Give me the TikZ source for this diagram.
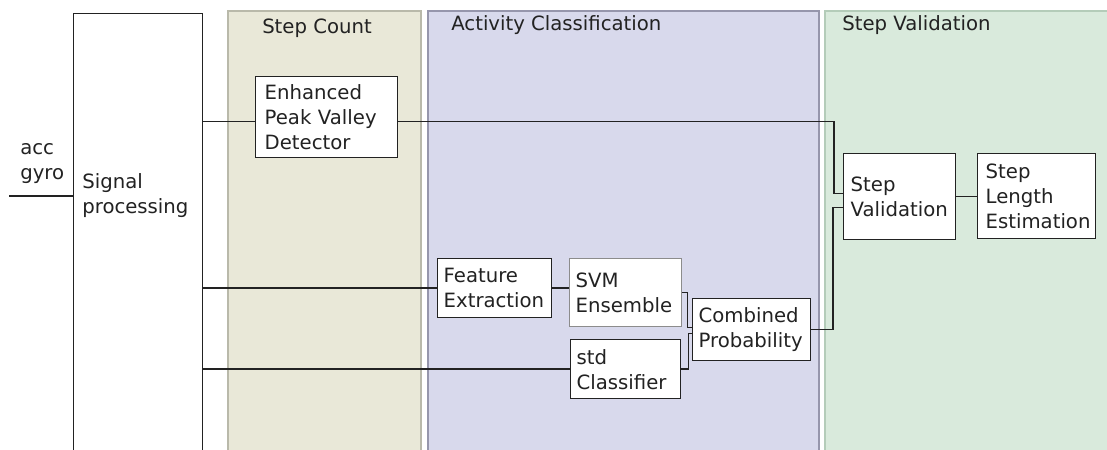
\documentclass[tikz,border=0pt]{standalone}
\usepackage{fontspec}
\setmainfont{DejaVu Sans}
\usetikzlibrary{positioning}
\definecolor{scbg}{RGB}{233,232,216}
\definecolor{scbd}{RGB}{185,185,170}
\definecolor{acbg}{RGB}{216,217,236}
\definecolor{acbd}{RGB}{150,150,172}
\definecolor{svbg}{RGB}{217,234,220}
\definecolor{svbd}{RGB}{180,204,185}
\definecolor{ink}{RGB}{34,34,34}

\begin{document}
\begin{tikzpicture}[x=0.02cm,y=-0.02cm,
  font=\fontsize{11.2}{14.2}\selectfont,
  txt/.style={inner sep=0pt,align=left,text=ink},
  blk/.style={draw=ink,line width=0.8pt,fill=white,anchor=north west,
    align=left,inner xsep=0.12cm,inner ysep=0pt,text=ink},
  wire/.style={draw=ink,line width=0.8pt}]
  \useasboundingbox (0,0) rectangle (1107,450);
  % panels
  \draw[line width=0.6pt,draw=scbd,fill=scbg] (228,11) rectangle (421,470);
  \draw[line width=0.8pt,draw=acbd,fill=acbg] (428,11) rectangle (819,470);
  \draw[line width=0.6pt,draw=svbd,fill=svbg] (825,11) rectangle (1120,470);
  \node[txt] (sctitle) at (317,28) {Step Count};
  \node[txt,anchor=west] (actitle) at (451,25) {Activity Classification};
  \node[txt,anchor=west] (svtitle) at (842,25) {Step Validation};

  % input and signal processing
  \node[blk,minimum width=2.58cm,minimum height=9.6cm] (sig) at (73,13) {};
  \node[txt,anchor=west] (siglbl) at (82,196) {Signal\\processing};
  \node[txt,anchor=west] (inlbl) at (20,164) {acc\\gyro};
  \coordinate (in) at (9,196);
  \draw[wire] (in) -- (sig.west |- in);

  % blocks
  \node[blk,inner xsep=0.18cm,minimum width=2.84cm,minimum height=1.62cm,text width=2.48cm] (epvd) at (255,76) {Enhanced\\Peak Valley\\Detector};
  \node[blk,inner xsep=0.14cm,minimum width=2.24cm,minimum height=1.72cm,text width=1.96cm] (sv) at (843,153) {Step\\Validation};
  \node[blk,inner xsep=0.16cm,minimum width=2.36cm,minimum height=1.70cm,text width=2.04cm] (sle) at (977,153) {Step\\Length\\Estimation};
  \node[blk,minimum width=2.28cm,minimum height=1.18cm,text width=2.04cm] (fe) at (437,258) {Feature\\Extraction};
  \node[blk,draw=black!45,minimum width=2.24cm,minimum height=1.36cm,text width=2.0cm] (svm) at (569,258) {SVM\\Ensemble};
  \node[blk,minimum width=2.2cm,minimum height=1.18cm,text width=1.96cm] (std) at (570,339) {std\\Classifier};
  \node[blk,minimum width=2.36cm,minimum height=1.24cm,text width=2.12cm] (cp) at (692,298) {Combined\\Probability};

  % connectors
  \coordinate (epvdin) at ([yshift=-0.09cm]epvd.west);
  \coordinate (epvdout) at ([yshift=-0.09cm]epvd.east);
  \coordinate (svin1) at ([yshift=0.06cm]sv.west);
  \coordinate (svin2) at ([yshift=-0.22cm]sv.west);
  \draw[wire] (sig.east |- epvdin) -- (epvdin);
  \draw[wire] (epvdout) -| ([xshift=-0.18cm]svin1) -- (svin1);
  \draw[wire] (cp.east) -| ([xshift=-0.2cm]svin2) -- (svin2);
  \draw[wire] (sv.east) -- (sv.east -| sle.west);
  \draw[wire] (sig.east |- fe.west) -- (fe.west);
  \draw[wire] (fe.east) -- (fe.east -| svm.west);
  \draw[wire] (sig.east |- std.west) -- (std.west);
  \draw[wire] (svm.east) -- ++(5,0) |- ([yshift=0.04cm]cp.west);
  \draw[wire] (std.east) -- ++(7,0) |- ([yshift=-0.08cm]cp.west);
\end{tikzpicture}
\end{document}
